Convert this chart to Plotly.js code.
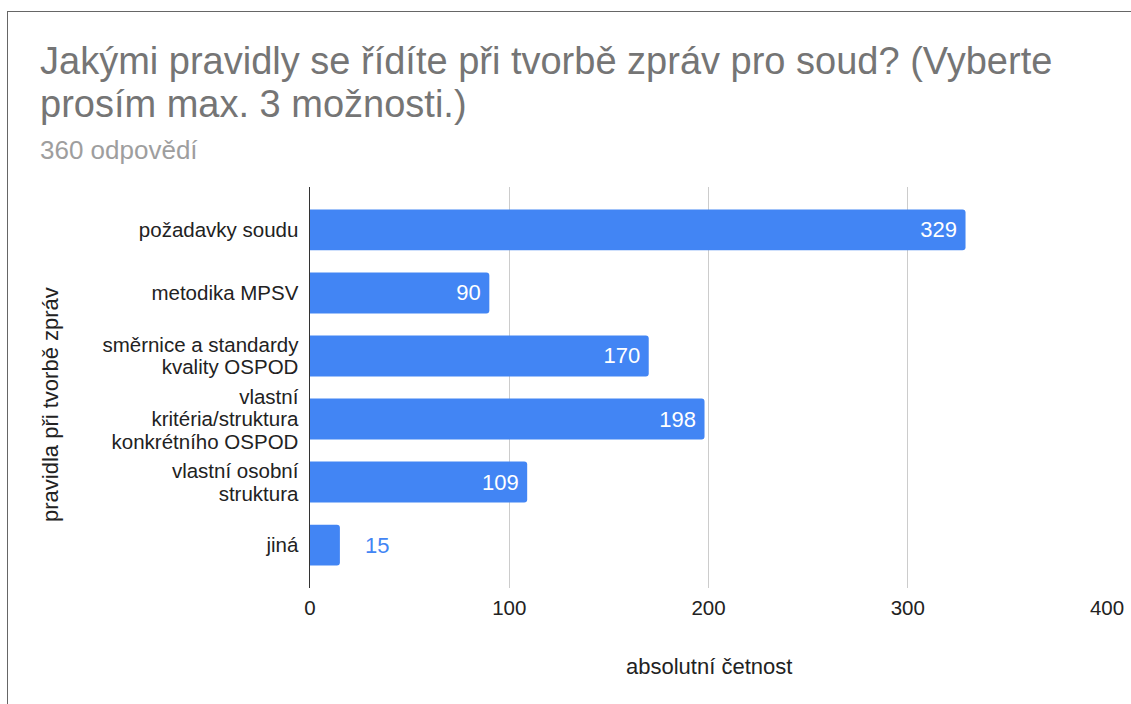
<!DOCTYPE html>
<html>
<head>
<meta charset="utf-8">
<script src="https://cdn.plot.ly/plotly-3.0.1.min.js"></script>
<style>
  html, body { margin: 0; padding: 0; background: #fff; }
  #chart { width: 1131px; height: 704px; position: relative; }
  #frame { position: absolute; left: 7px; top: 11px; width: 1124px; height: 693px;
           border-top: 1.5px solid #666; border-left: 1.5px solid #666; pointer-events: none; z-index: 10; }
</style>
</head>
<body>
<div id="chart"></div>
<div id="frame"></div>
<script>
const categories = ['požadavky soudu', 'metodika MPSV', 'směrnice a standardy kvality OSPOD',
  'vlastní kritéria/struktura konkrétního OSPOD', 'vlastní osobní struktura', 'jiná'];
const tickLabels = ['požadavky soudu', 'metodika MPSV', 'směrnice a standardy<br>kvality OSPOD',
  'vlastní<br>kritéria/struktura<br>konkrétního OSPOD', 'vlastní osobní<br>struktura', 'jiná'];
const values = [329, 90, 170, 198, 109, 15];
const xTicks = [0, 100, 200, 300, 400];

const titleLines = ['Jakými pravidly se řídíte při tvorbě zpráv pro soud? (Vyberte', 'prosím max. 3 možnosti.)'];
const subtitleText = '360 odpovědí';
const xTitle = 'absolutní četnost';
const yTitle = 'pravidla při tvorbě zpráv';

const FONT = '"Liberation Sans", Arial, sans-serif';
const W = 1131, H = 704;
const L = 310, R = 24, T = 187, B = 116;
const pw = W - L - R, ph = H - T - B;
const px = x => (x - L) / pw;
const py = y => (H - B - y) / ph;

const threshold = 40;
const positions = values.map(v => v >= threshold ? 'inside' : 'outside');
const labels = values.map(v => v >= threshold ? v + '\u2005' : '\u2003' + v);

const trace = {
  type: 'bar',
  orientation: 'h',
  y: categories,
  x: values,
  width: 0.65,
  marker: { color: '#4285F4', cornerradius: 3 },
  text: labels,
  textposition: positions,
  insidetextanchor: 'end',
  insidetextfont: { family: FONT, size: 22, color: '#ffffff' },
  outsidetextfont: { family: FONT, size: 22, color: '#4285F4' },
  constraintext: 'none',
  cliponaxis: false,
  hoverinfo: 'x+y'
};

const layout = {
  width: W, height: H,
  margin: { l: L, r: R, t: T, b: B, pad: 0 },
  paper_bgcolor: '#fff', plot_bgcolor: '#fff',
  showlegend: false,
  font: { family: FONT, color: '#222' },
  xaxis: {
    range: [0, 400],
    tickvals: xTicks,
    ticktext: xTicks.map(String),
    showgrid: true, gridcolor: '#cccccc', gridwidth: 1,
    zeroline: false, showline: false,
    ticks: '', ticklabelstandoff: 5,
    tickfont: { family: FONT, size: 20.5, color: '#222' }
  },
  yaxis: {
    type: 'category',
    categoryorder: 'array', categoryarray: categories,
    tickvals: categories, ticktext: tickLabels,
    range: [5.68, -0.68],
    showgrid: false, zeroline: false,
    showline: true, linecolor: '#333', linewidth: 1.5,
    ticks: '', ticklabelstandoff: 6,
    tickfont: { family: FONT, size: 20.5, color: '#222' }
  },
  annotations: [
    { text: titleLines[0], xref: 'paper', yref: 'paper', x: px(38), y: py(61),
      xanchor: 'left', yanchor: 'middle', showarrow: false,
      font: { family: FONT, size: 38, color: '#757575' } },
    { text: titleLines[1], xref: 'paper', yref: 'paper', x: px(38), y: py(104),
      xanchor: 'left', yanchor: 'middle', showarrow: false,
      font: { family: FONT, size: 38, color: '#757575' } },
    { text: subtitleText, xref: 'paper', yref: 'paper', x: px(38), y: py(150),
      xanchor: 'left', yanchor: 'middle', showarrow: false,
      font: { family: FONT, size: 26, color: '#9e9e9e' } },
    { text: yTitle, xref: 'paper', yref: 'paper', x: px(50), y: py(405),
      xanchor: 'center', yanchor: 'middle', showarrow: false, textangle: -90,
      font: { family: FONT, size: 22, color: '#222' } },
    { text: xTitle, xref: 'paper', yref: 'paper', x: 0.5, y: py(666),
      xanchor: 'center', yanchor: 'middle', showarrow: false,
      font: { family: FONT, size: 22, color: '#222' } }
  ]
};

function tightenLines(gd, selector, newEm) {
  gd.querySelectorAll(selector).forEach(t => {
    const lines = t.querySelectorAll('tspan.line');
    if (lines.length < 2) return;
    const before = t.getBBox();
    lines.forEach(ln => {
      const dy = ln.getAttribute('dy');
      if (dy && dy.endsWith('em')) {
        const v = parseFloat(dy);
        ln.setAttribute('dy', (v * newEm / 1.3) + 'em');
      }
    });
    const after = t.getBBox();
    const shift = (before.y + before.height / 2) - (after.y + after.height / 2);
    const tr = t.getAttribute('transform') || '';
    t.setAttribute('transform', (tr + ' translate(0,' + shift + ')').trim());
  });
}

const gd = document.getElementById('chart');
Plotly.newPlot(gd, [trace], layout, { displayModeBar: false, staticPlot: true }).then(() => {
  tightenLines(gd, 'g.ytick text', 1.1);
});
</script>
</body>
</html>
